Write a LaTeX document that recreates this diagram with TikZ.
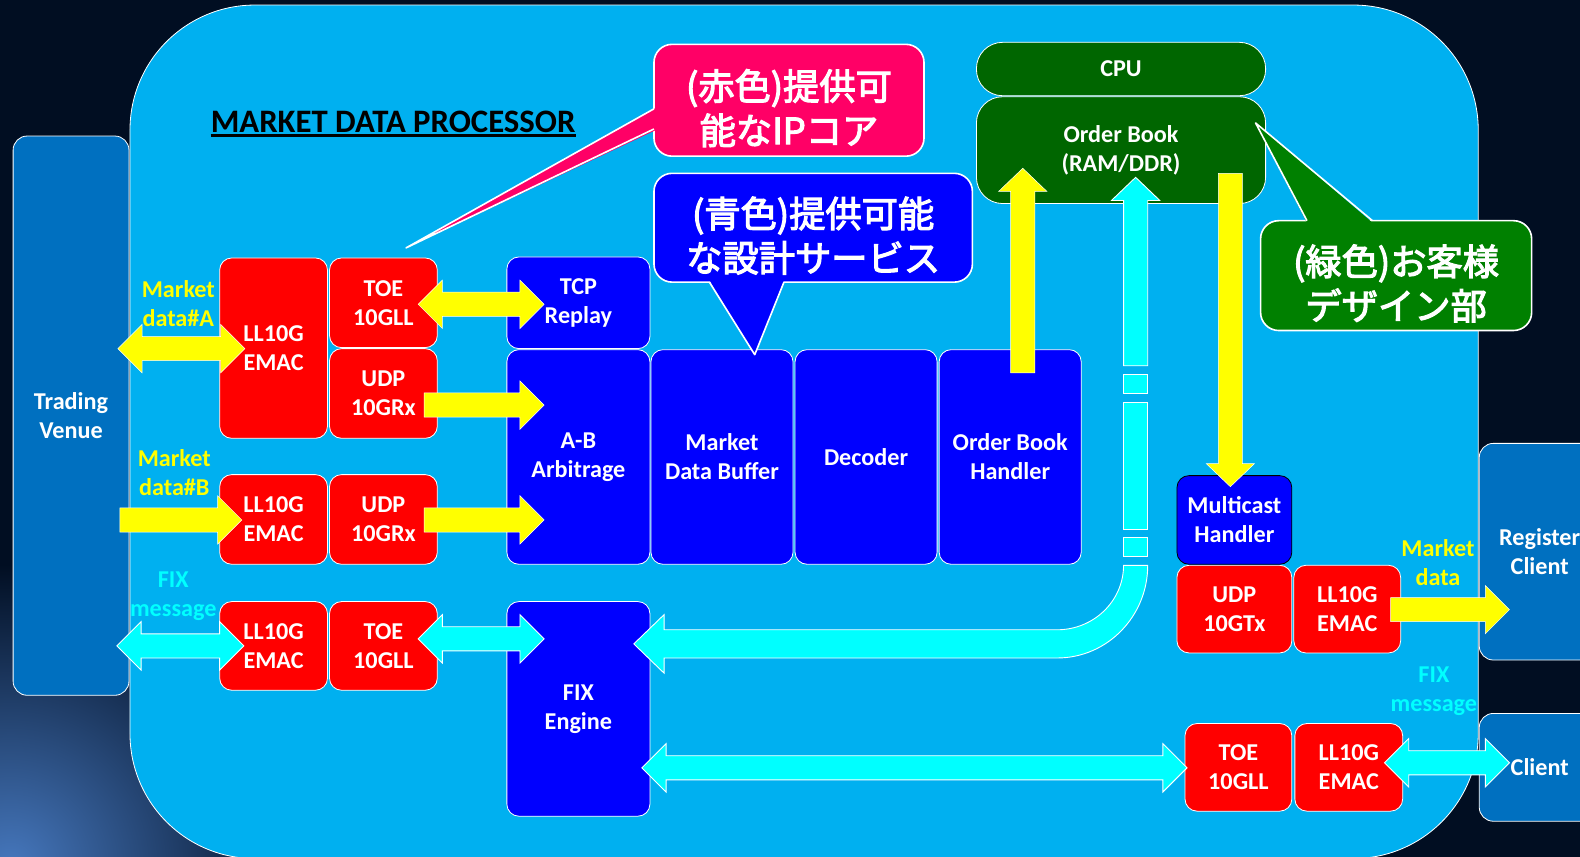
\documentclass[tikz,border=0pt]{standalone}
\usepackage{fontspec}
\setmainfont{Carlito}
\newfontfamily\jpfont{Noto Sans CJK JP}
\definecolor{darkbg}{RGB}{1,14,34}
\definecolor{mainbg}{RGB}{0,176,240}
\definecolor{venue}{RGB}{0,112,192}
\definecolor{boxred}{RGB}{255,0,0}
\definecolor{boxblue}{RGB}{0,0,255}
\definecolor{cpugreen}{RGB}{0,102,0}
\definecolor{callgreen}{RGB}{0,128,0}
\definecolor{callpink}{RGB}{255,0,102}
\definecolor{arrcyan}{RGB}{0,255,255}
\definecolor{arryellow}{RGB}{255,255,0}
\newcommand{\mybox}[7]{\node[#1, minimum width={#4-#2}, minimum height={#5-#3}] (#6) at ({(#2+#4)/2},{(#3+#5)/2}) {#7};}
\newcommand{\hdarrow}[4]{\draw[#1] (#2,#4) -- ({#2+24},{#4-24}) -- ({#2+24},{#4-12}) -- ({#3-24},{#4-12}) -- ({#3-24},{#4-24}) -- (#3,#4) -- ({#3-24},{#4+24}) -- ({#3-24},{#4+12}) -- ({#2+24},{#4+12}) -- ({#2+24},{#4+24}) -- cycle;}
\newcommand{\hrarrow}[4]{\draw[#1] (#2,{#4-12}) -- ({#3-24},{#4-12}) -- ({#3-24},{#4-24}) -- (#3,#4) -- ({#3-24},{#4+24}) -- ({#3-24},{#4+12}) -- (#2,{#4+12}) -- cycle;}
\newcommand{\vuarrow}[4]{\draw[#1] ({#2-12},#3) -- ({#2-12},{#4+23}) -- ({#2-24},{#4+23}) -- (#2,#4) -- ({#2+24},{#4+23}) -- ({#2+12},{#4+23}) -- ({#2+12},#3) -- cycle;}
\newcommand{\vdarrow}[4]{\draw[#1] ({#2-12},#3) -- ({#2-12},{#4-23}) -- ({#2-24},{#4-23}) -- (#2,#4) -- ({#2+24},{#4-23}) -- ({#2+12},{#4-23}) -- ({#2+12},#3) -- cycle;}
\newcommand{\jpstrut}{\rule{0pt}{46pt}}
\newcommand{\jpon}{\special{pdf:literal 2 Tr 1.1 w 1 1 1 RG}}
\newcommand{\jpoff}{\special{pdf:literal 0 Tr}}
\begin{document}
\begin{tikzpicture}[x=1pt,y=-1pt,
  txt/.style={font=\bfseries\fontsize{24}{29}\selectfont, align=center, inner sep=0pt, outer sep=0pt},
  box/.style={txt, draw=white, line width=0.8pt, rounded corners=12pt, text=white},
  redbox/.style={box, fill=boxred},
  bluebox/.style={box, fill=boxblue},
  venuebox/.style={box, fill=venue, rounded corners=14pt},
  cpubox/.style={box, fill=cpugreen, rounded corners=26pt},
  yarrow/.style={fill=arryellow, draw=white, line width=0.5pt, line join=miter},
  carrow/.style={fill=arrcyan, draw=white, line width=0.9pt, line join=miter},
  ylbl/.style={txt, text=arryellow},
  clbl/.style={txt, text=arrcyan},
  callout/.style={draw=white, line width=1.6pt, rounded corners=18pt, inner sep=0pt, align=center, text=white, font=\jpfont\fontsize{36}{44}\selectfont},
  tailline/.style={draw=white, line width=1.6pt, line join=round}
]
\useasboundingbox (0,0) rectangle (1568,850);
\fill[darkbg] (0,0) rectangle (1568,850);
\shade[inner color={rgb,255:red,70;green,120;blue,190}, outer color=darkbg] (10,860) circle (300);
% main processor area
\draw[fill=mainbg, draw=white, line width=0.8pt, rounded corners=124pt] (129,5) rectangle (1467,852);
% title
\node[font=\bfseries\fontsize{32.5}{38}\selectfont, anchor=base west, inner sep=0pt] (title) at (209,131) {MARKET DATA PROCESSOR};
\draw[line width=2.5pt] ([yshift=-3.6pt]title.base west) -- ([yshift=-3.6pt]title.base east);
% outside boxes
\mybox{venuebox}{13}{135}{128}{690}{venue}{Trading\\Venue}
\mybox{venuebox}{1468}{440}{1588}{655}{regclient}{Register\\Client}
\mybox{venuebox}{1468}{708}{1588}{815}{client}{Client}
% CPU
\mybox{cpubox}{969}{42}{1256}{95}{cpu}{CPU}
\mybox{cpubox}{969}{96}{1256}{202}{orderbook}{Order Book\\(RAM/DDR)}
% red boxes
\mybox{redbox}{218}{256}{325}{435}{emacA}{LL10G\\EMAC}
\mybox{redbox}{327}{256}{434}{345}{toeA}{TOE\\10GLL}
\mybox{redbox}{327}{346}{434}{435}{udpA}{UDP\\10GRx}
\mybox{redbox}{218}{471}{325}{560}{emacB}{LL10G\\EMAC}
\mybox{redbox}{327}{471}{434}{560}{udpB}{UDP\\10GRx}
\mybox{redbox}{218}{597}{325}{685}{emacF}{LL10G\\EMAC}
\mybox{redbox}{327}{597}{434}{685}{toeF}{TOE\\10GLL}
\mybox{redbox}{1168}{561}{1282}{648}{udpTx}{UDP\\10GTx}
\mybox{redbox}{1284}{561}{1390}{648}{emacOut}{LL10G\\EMAC}
\mybox{redbox}{1176}{718}{1282}{805}{toeC}{TOE\\10GLL}
\mybox{redbox}{1285}{718}{1392}{805}{emacC}{LL10G\\EMAC}
% blue boxes
\mybox{bluebox}{503}{255}{645}{346}{tcp}{TCP\\Replay}
\mybox{bluebox}{503}{347}{645}{560}{ab}{A-B\\Arbitrage}
\mybox{bluebox}{646}{347}{787}{560}{mdb}{Market\\Data Buffer}
\mybox{bluebox}{789}{347}{930}{560}{dec}{Decoder}
\mybox{bluebox}{932}{347}{1073}{560}{obh}{Order Book\\Handler}
\mybox{bluebox}{503}{597}{645}{810}{fix}{FIX\\Engine}
\mybox{bluebox, draw=black}{1168}{472}{1282}{560}{mch}{Multicast\\Handler}
% labels
\node[ylbl] (lblA) at (177,301) {Market\\data\#A};
\node[ylbl] (lblB) at (173,469) {Market\\data\#B};
\node[clbl] (lblF) at (172,592) {FIX\\message};
\node[ylbl] (lblMD) at (1427,558) {Market\\data};
\node[clbl] (lblFC) at (1423,686) {FIX\\message};
% yellow arrows
\hdarrow{yarrow}{117}{243}{346}
\hdarrow{yarrow}{415}{540}{302}
\hrarrow{yarrow}{421}{540}{402}
\hrarrow{yarrow}{119}{240}{516}
\hrarrow{yarrow}{421}{540}{516}
\vuarrow{yarrow}{1015}{370}{167}
\vdarrow{yarrow}{1221}{172}{483}
\hrarrow{yarrow}{1380}{1498}{605}
% cyan arrows
\hdarrow{carrow}{116}{242}{641}
\hdarrow{carrow}{415}{540}{634}
\hdarrow{carrow}{637}{1178}{762}
\hdarrow{carrow}{1374}{1498}{757}
% cyan dashed curved arrow from order book to FIX engine
\vuarrow{carrow}{1127}{363}{176}
\draw[carrow] (1115,372) rectangle (1139,390);
\draw[carrow] (1115,399) rectangle (1139,525);
\draw[carrow] (1115,533) rectangle (1139,552);
\draw[carrow] (1115,561) arc[start angle=0, end angle=90, x radius=66, y radius=64]
  -- (659,625) -- (659,610) -- (629,639) -- (659,668) -- (659,653) -- (1049,653)
  arc[start angle=90, end angle=0, x radius=90, y radius=92] -- cycle;
% callouts
\node[callout, fill=callpink, minimum width=268, minimum height=111] (cpink) at (783,99.5) {\jpon\jpstrut(赤色)提供可\\能なIPコア\jpoff};
\fill[callpink] (403,246) -- (651,107) -- (651,129) -- cycle;
\draw[tailline] (649,108) -- (403,246) -- (649,128);
\node[callout, fill=boxblue, minimum width=316, minimum height=108] (cblue) at (807,226) {\jpon\jpstrut(青色)提供可能\\な設計サービス\jpoff};
\fill[boxblue] (704,278) -- (749,352) -- (778,278) -- cycle;
\draw[tailline] (704,280) -- (749,352) -- (778,280);
\node[callout, fill=callgreen, minimum width=269, minimum height=109] (cgreen) at (1385.5,273.5) {\jpon\jpstrut(緑色)お客様\\デザイン部\jpoff};
\fill[callgreen] (1297,221) -- (1246,122) -- (1362,221) -- cycle;
\draw[tailline] (1297,219) -- (1246,122) -- (1362,219);
\end{tikzpicture}
\end{document}
